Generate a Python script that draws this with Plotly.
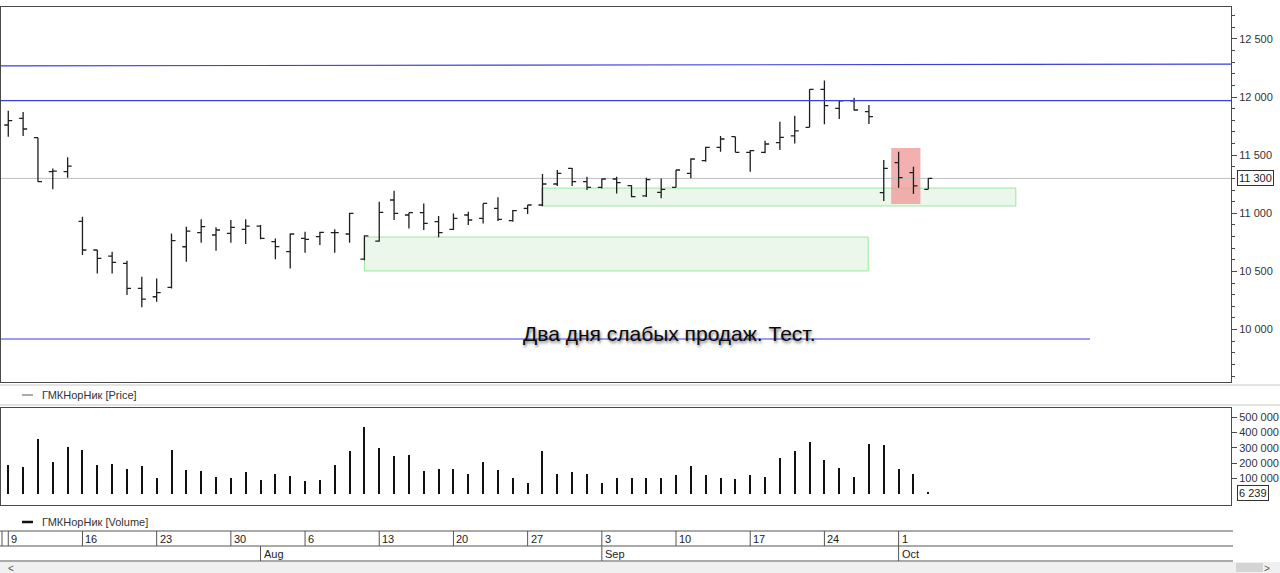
import datetime
import plotly.graph_objects as go

# ---------------- data ----------------
dates = (
    ["2018-07-%02d" % d for d in [9, 10, 11, 12, 13, 16, 17, 18, 19, 20, 23, 24, 25, 26, 27, 30, 31]]
    + ["2018-08-%02d" % d for d in [1, 2, 3, 6, 7, 8, 9, 10, 13, 14, 15, 16, 17, 20, 21, 22, 23, 24, 27, 28, 29, 30, 31]]
    + ["2018-09-%02d" % d for d in [3, 4, 5, 6, 7, 10, 11, 12, 13, 14, 17, 18, 19, 20, 21, 24, 25, 26, 27, 28]]
    + ["2018-10-%02d" % d for d in [1, 2, 3]]
)

open_ = [11759, 11816, 11650, 11358, 11358, 10930, 10684, 10632, 10569, 10354,
         10282, 10363, 10712, 10833, 10813, 10827, 10862, 10890, 10756, 10670,
         10784, 10799, 10833, 10822, 10605, 10760, 11114, 10985, 11005, 10928,
         10862, 10985, 10957, 11042, 10936, 11042, 11071, 11252, 11387, 11272,
         11223, 11295, 11237, 11149, 11180, 11223, 11344, 11452, 11567, 11659,
         11524, 11524, 11607, 11665, 11739, 12066, 11903, 11966, 11874, 11177,
         11435, 11349, 11206]
high = [11882, 11871, 11650, 11386, 11481, 10971, 10684, 10670, 10592, 10454,
        10440, 10827, 10885, 10948, 10879, 10942, 10948, 10899, 10784, 10827,
        10842, 10842, 10862, 11005, 10810, 11100, 11194, 11005, 11085, 10977,
        10999, 11014, 11085, 11137, 11028, 11071, 11338, 11372, 11390, 11315,
        11300, 11315, 11240, 11305, 11300, 11372, 11473, 11573, 11665, 11659,
        11544, 11624, 11788, 11839, 12066, 12141, 11974, 11994, 11931, 11458,
        11530, 11401, 11301]
low = [11659, 11664, 11272, 11206, 11306, 10641, 10483, 10483, 10297, 10191,
       10239, 10354, 10583, 10747, 10678, 10747, 10736, 10776, 10604, 10526,
       10661, 10727, 10661, 10747, 10595, 10756, 10942, 10870, 10856, 10793,
       10856, 10899, 10913, 10934, 10928, 10994, 11060, 11235, 11235, 11200,
       11214, 11171, 11137, 11140, 11130, 11223, 11301, 11444, 11530, 11524,
       11358, 11516, 11544, 11601, 11739, 11765, 11811, 11883, 11768, 11106,
       11220, 11166, 11206]
close = [11796, 11725, 11272, 11363, 11406, 10684, 10612, 10578, 10354, 10262,
         10317, 10764, 10847, 10885, 10856, 10879, 10890, 10784, 10713, 10822,
         10776, 10836, 10833, 11000, 10805, 11008, 10999, 11005, 10913, 10833,
         10957, 10942, 11085, 10948, 11022, 11071, 11252, 11344, 11272, 11222,
         11295, 11263, 11143, 11290, 11206, 11372, 11467, 11567, 11639, 11524,
         11538, 11596, 11653, 11708, 12066, 11926, 11966, 11888, 11831, 11386,
         11306, 11235, 11301]
volume = [186000, 175000, 357000, 208000, 303000, 285000, 186000, 197000, 164000, 180000,
          105000, 285000, 154000, 147000, 110000, 103000, 143000, 88000, 132000, 114000,
          83000, 88000, 186000, 281000, 436000, 298000, 248000, 252000, 149000, 160000,
          160000, 127000, 206000, 156000, 101000, 72000, 281000, 132000, 143000, 132000,
          72000, 101000, 101000, 103000, 103000, 121000, 180000, 121000, 103000, 99000,
          121000, 110000, 232000, 281000, 336000, 219000, 171000, 110000, 325000, 318000,
          160000, 132000, 6239]

last_price = 11300
last_volume = 6239
price_ticks = [10000, 10500, 11000, 11500, 12000, 12500]
volume_ticks = [100000, 200000, 300000, 400000, 500000]
# blue trend/level lines: (x start idx, price start, x end idx, price end)
level_lines = [(-0.5, 12268, 82.4, 12283), (-0.5, 11968, 82.4, 11968), (-0.5, 9919, 72.9, 9919)]
# zones: (x0 idx, x1 idx, low price, high price)
green_zones = [(24.0, 57.95, 10504, 10796), (35.95, 67.9, 11063, 11217)]
red_zones = [(59.5, 61.47, 11080, 11561)]
note_text = "Два дня слабых продаж. Тест."
note_pos = (44.5, 9962)
instrument = "ГМКНорНик"
month_names = {8: "Aug", 9: "Sep", 10: "Oct"}

# ---------------- geometry helpers ----------------
H = 573
ML, MR = 1, 49
PW = 1280 - ML - MR


def py(p):
    return 1 - p / H


def px(p):
    return (p - ML) / PW


FONT = "Liberation Sans, Arial, sans-serif"
n = len(dates)
xr = [-0.49, 82.4]

fig = go.Figure()
fig.add_trace(go.Ohlc(
    x=list(range(n)), open=open_, high=high, low=low, close=close,
    increasing=dict(line=dict(color="#1e1e1e", width=1.3)),
    decreasing=dict(line=dict(color="#1e1e1e", width=1.3)),
    tickwidth=0.27, hoverinfo="skip", showlegend=False,
    xaxis="x", yaxis="y",
))
fig.add_trace(go.Bar(
    x=list(range(n)), y=volume, width=0.135, marker=dict(color="#111111", line=dict(width=0)),
    hoverinfo="skip", showlegend=False, xaxis="x2", yaxis="y2",
))

shapes = []
annotations = []

# zones
for x0, x1, lo, hi in green_zones:
    shapes.append(dict(type="rect", xref="x", yref="y", x0=x0, x1=x1, y0=lo, y1=hi,
                       fillcolor="rgba(232,246,232,0.85)", line=dict(color="#9be89b", width=1),
                       layer="below"))
for x0, x1, lo, hi in red_zones:
    shapes.append(dict(type="rect", xref="x", yref="y", x0=x0, x1=x1, y0=lo, y1=hi,
                       fillcolor="rgba(240,150,150,0.75)", line=dict(width=0), layer="below"))
# last price line
shapes.append(dict(type="line", xref="x", yref="y", x0=xr[0], x1=xr[1], y0=last_price, y1=last_price,
                   line=dict(color="#bdbdbd", width=1), layer="below"))
# blue lines
for x0, y0, x1, y1 in level_lines:
    shapes.append(dict(type="line", xref="x", yref="y", x0=x0, x1=x1, y0=y0, y1=y1,
                       line=dict(color="#3c3cdc", width=1.2)))

# legend strips separators
for yy, col in [(385, "#c8c8c8"), (405, "#c8c8c8")]:
    shapes.append(dict(type="line", xref="paper", yref="paper", x0=px(0), x1=px(1280),
                       y0=py(yy), y1=py(yy), line=dict(color=col, width=1)))
shapes.append(dict(type="line", xref="paper", yref="paper", x0=px(22), x1=px(33),
                   y0=py(395), y1=py(395), line=dict(color="#555", width=1)))
shapes.append(dict(type="line", xref="paper", yref="paper", x0=px(22), x1=px(33),
                   y0=py(522), y1=py(522), line=dict(color="#111", width=2.5)))
annotations.append(dict(xref="paper", yref="paper", x=px(40), y=py(395), text=instrument + " [Price]",
                        showarrow=False, xanchor="left", yanchor="middle",
                        font=dict(family=FONT, size=11, color="#333")))
annotations.append(dict(xref="paper", yref="paper", x=px(40), y=py(522), text=instrument + " [Volume]",
                        showarrow=False, xanchor="left", yanchor="middle",
                        font=dict(family=FONT, size=11, color="#333")))

# date strip
for yy in [531, 546, 561]:
    shapes.append(dict(type="line", xref="paper", yref="paper", x0=px(0), x1=px(1233),
                       y0=py(yy), y1=py(yy), line=dict(color="#555", width=1)))
shapes.append(dict(type="line", xref="paper", yref="paper", x0=px(2), x1=px(2),
                   y0=py(531), y1=py(546), line=dict(color="#555", width=1)))
prev_month = None
for i, d in enumerate(dates):
    y_, m_, dd = (int(t) for t in d.split("-"))
    if datetime.date(y_, m_, dd).weekday() == 0:
        shapes.append(dict(type="line", xref="x", yref="paper", x0=i, x1=i,
                           y0=py(531), y1=py(546), line=dict(color="#555", width=1)))
        annotations.append(dict(xref="x", yref="paper", x=i, y=py(538.5), text=str(dd),
                                showarrow=False, xanchor="left", yanchor="middle", xshift=1,
                                font=dict(family=FONT, size=11, color="#222")))
    if prev_month is not None and m_ != prev_month:
        shapes.append(dict(type="line", xref="x", yref="paper", x0=i, x1=i,
                           y0=py(546), y1=py(561), line=dict(color="#555", width=1)))
        annotations.append(dict(xref="x", yref="paper", x=i, y=py(553.5), text=month_names[m_],
                                showarrow=False, xanchor="left", yanchor="middle", xshift=1,
                                font=dict(family=FONT, size=11, color="#222")))
    prev_month = m_

# scrollbar
shapes.append(dict(type="rect", xref="paper", yref="paper", x0=px(0), x1=px(1280), y0=py(573), y1=py(562),
                   fillcolor="#f0f0f0", line=dict(width=0)))
shapes.append(dict(type="rect", xref="paper", yref="paper", x0=px(1236), x1=px(1263), y0=py(572), y1=py(563),
                   fillcolor="#d4d4d4", line=dict(width=0)))
annotations.append(dict(xref="paper", yref="paper", x=px(6), y=py(568), text="&lt;", showarrow=False,
                        yanchor="middle", font=dict(family=FONT, size=10, color="#555")))
annotations.append(dict(xref="paper", yref="paper", x=px(1272), y=py(568), text="&gt;", showarrow=False,
                        yanchor="middle", font=dict(family=FONT, size=10, color="#555")))

# last value boxes
annotations.append(dict(xref="paper", yref="y", x=1, y=last_price, text="11 300", showarrow=False,
                        xanchor="left", yanchor="middle", xshift=6, bgcolor="white",
                        bordercolor="#333", borderwidth=1, borderpad=1,
                        font=dict(family=FONT, size=11, color="#222")))
annotations.append(dict(xref="paper", yref="y2", x=1, y=last_volume, text="6 239", showarrow=False,
                        xanchor="left", yanchor="middle", xshift=6, bgcolor="white",
                        bordercolor="#333", borderwidth=1, borderpad=1,
                        font=dict(family=FONT, size=11, color="#222")))

# note text
annotations.append(dict(xref="x", yref="y", x=note_pos[0], y=note_pos[1], text=note_text, showarrow=False,
                        xanchor="center", yanchor="middle",
                        font=dict(family=FONT, size=21, color="#0a0a0a",
                                  shadow="1px 2px 3px rgba(0,0,0,0.55)")))

axis_common = dict(showgrid=False, zeroline=False, showline=True, mirror=True, linecolor="#4a4a4a",
                   linewidth=1)
fig.update_layout(
    width=1280, height=573,
    margin=dict(l=ML, r=MR, t=0, b=0),
    paper_bgcolor="white", plot_bgcolor="white",
    separators=". ",
    showlegend=False,
    bargap=0,
    font=dict(family=FONT, size=11, color="#333"),
    xaxis=dict(range=xr, domain=[0, 1], anchor="y", showticklabels=False, ticks="",
               rangeslider=dict(visible=False), **axis_common),
    xaxis2=dict(range=xr, domain=[0, 1], anchor="y2", matches="x", showticklabels=False, ticks="",
                **axis_common),
    yaxis=dict(domain=[py(382), py(7)], range=[9549, 12774], side="right", tickvals=price_ticks,
               tickformat=",d",
               ticks="outside", ticklen=5, tickcolor="#4a4a4a",
               minor=dict(dtick=100, ticks="outside", ticklen=3, tickcolor="#4a4a4a"),
               tickfont=dict(family=FONT, size=11, color="#333"), **axis_common),
    yaxis2=dict(domain=[py(505), py(408)], range=[-72368, 559210], side="right", tickvals=volume_ticks,
                tickformat=",d",
                ticks="outside", ticklen=5, tickcolor="#4a4a4a",
                tickfont=dict(family=FONT, size=11, color="#333"), **axis_common),
    shapes=shapes,
    annotations=annotations,
)

fig.write_html("out.html", config={"displayModeBar": False},
               post_script="document.body.style.margin='0px';document.body.style.overflow='hidden';")
